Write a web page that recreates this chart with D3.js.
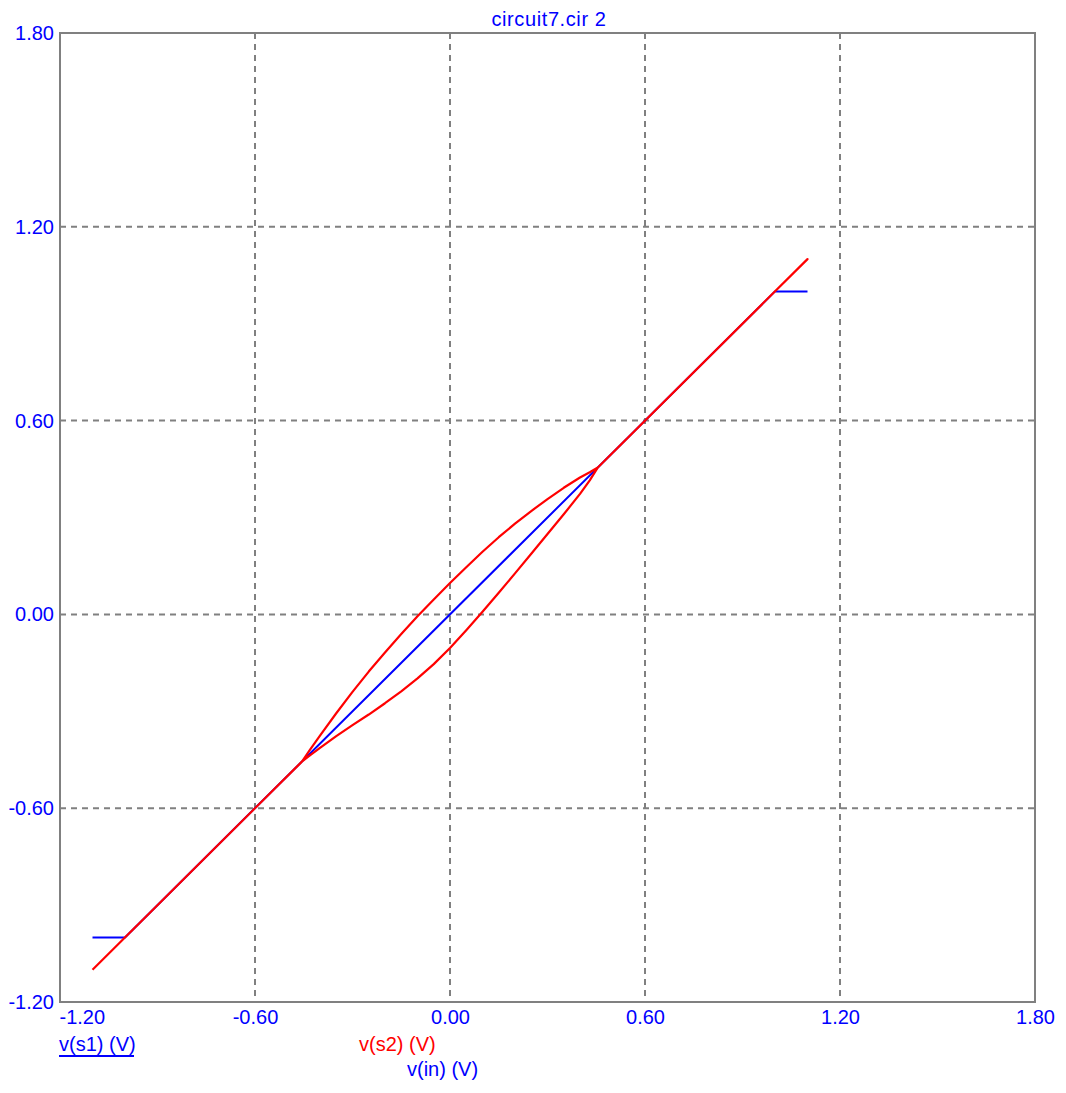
<!DOCTYPE html>
<html>
<head>
<meta charset="utf-8">
<script src="https://cdn.jsdelivr.net/npm/d3@7"></script>
<style>
  html, body { margin: 0; padding: 0; background: #ffffff; }
  svg { display: block; }
  text { font-family: "Liberation Sans", Arial, sans-serif; }
</style>
</head>
<body>
<svg id="chart" width="1066" height="1093"></svg>
<script>
// ---- data ----
const title = "circuit7.cir 2";
const xTicks = [-1.2, -0.6, 0, 0.6, 1.2, 1.8];
const xTickLabels = ["-1.20", "-0.60", "0.00", "0.60", "1.20", "1.80"];
const yTicks = [-1.2, -0.6, 0, 0.6, 1.2, 1.8];
const yTickLabels = ["-1.20", "-0.60", "0.00", "0.60", "1.20", "1.80"];
const seriesNames = ["v(s1) (V)", "v(s2) (V)", "v(in) (V)"];

// v(s1) versus v(in)
const s1In  = [-1.1, -1.0, 1.0, 1.1];
const s1Out = [-1.0, -1.0, 1.0, 1.0];

// v(s2) versus v(in): up the diagonal, lower branch of the loop, to the top, back down along the upper branch
const s2In = [-1.1, -0.455, -0.43, -0.40, -0.35, -0.30, -0.25, -0.20, -0.15, -0.10, -0.05, 0, 0.05, 0.10,
              0.15, 0.20, 0.25, 0.30, 0.35, 0.40, 0.43, 0.455, 1.1,
              0.455, 0.43, 0.40, 0.35, 0.30, 0.25, 0.20, 0.15, 0.10, 0.05, 0, -0.05, -0.10,
              -0.15, -0.20, -0.25, -0.30, -0.35, -0.40, -0.43, -0.455, -1.1];
const s2Out = [-1.1, -0.455, -0.436, -0.413, -0.377, -0.343, -0.310, -0.275, -0.238, -0.198, -0.154, -0.104, -0.049, 0.008,
               0.067, 0.127, 0.188, 0.249, 0.310, 0.373, 0.415, 0.455, 1.1,
               0.455, 0.440, 0.424, 0.392, 0.357, 0.320, 0.281, 0.239, 0.194, 0.146, 0.097, 0.046, -0.006,
               -0.061, -0.118, -0.177, -0.240, -0.306, -0.375, -0.418, -0.455, -1.1];

// ---- layout ----
(function () {
const svg = d3.select("#chart");
const pL = 60, pR = 1035, pT = 33, pB = 1002;
const x = d3.scaleLinear().domain([-1.2, 1.8]).range([pL, pR]);
const y = d3.scaleLinear().domain([-1.2, 1.8]).range([pB, pT]);
const blue = "#0000ff", red = "#ff0000", gray = "#808080";
const fs = "20px";

svg.append("rect").attr("width", 1066).attr("height", 1093).attr("fill", "#fff");

// grid
const grid = svg.append("g");
grid.selectAll("line.v").data(xTicks.slice(1, -1)).join("line")
  .attr("x1", d => x(d)).attr("x2", d => x(d))
  .attr("y1", pT).attr("y2", pB)
  .attr("stroke", gray).attr("stroke-width", 2).attr("stroke-dasharray", "6,5");
grid.selectAll("line.h").data(yTicks.slice(1, -1)).join("line")
  .attr("y1", d => y(d)).attr("y2", d => y(d))
  .attr("x1", pL).attr("x2", pR)
  .attr("stroke", gray).attr("stroke-width", 2).attr("stroke-dasharray", "6,5");

// frame
svg.append("rect").attr("x", pL).attr("y", pT)
  .attr("width", pR - pL).attr("height", pB - pT)
  .attr("fill", "none").attr("stroke", gray).attr("stroke-width", 2);

// axes (labels only)
const xAxis = d3.axisBottom(x).tickValues(xTicks)
  .tickFormat((d, i) => xTickLabels[i]).tickSize(0).tickPadding(8);
const gx = svg.append("g").attr("transform", `translate(0,${pB})`).call(xAxis);
gx.select(".domain").remove();
gx.selectAll("text").attr("fill", blue).style("font-size", fs).style("font-family", "'Liberation Sans', Arial, sans-serif");
gx.selectAll("text").filter((d, i) => i === 0).attr("text-anchor", "start").attr("x", -1);

const yAxis = d3.axisLeft(y).tickValues(yTicks)
  .tickFormat((d, i) => yTickLabels[i]).tickSize(0).tickPadding(6);
const gy = svg.append("g").attr("transform", `translate(${pL},0)`).call(yAxis);
gy.select(".domain").remove();
gy.selectAll("text").attr("fill", blue).style("font-size", fs).style("font-family", "'Liberation Sans', Arial, sans-serif");

// series
const line = d3.line().x(d => x(d[0])).y(d => y(d[1]));
svg.append("path").datum(d3.zip(s1In, s1Out))
  .attr("d", line).attr("fill", "none").attr("stroke", blue).attr("stroke-width", 2);
svg.append("path").datum(d3.zip(s2In, s2Out))
  .attr("d", line).attr("fill", "none").attr("stroke", red).attr("stroke-width", 2.2)
  .attr("stroke-linejoin", "round");

// title
svg.append("text").attr("x", 549).attr("y", 25.5).attr("text-anchor", "middle")
  .attr("fill", blue).style("font-size", fs).style("letter-spacing", "0.6px").text(title);

// legend labels
svg.append("text").attr("x", 59).attr("y", 1050.5).attr("fill", blue)
  .style("font-size", fs).text(seriesNames[0]);
svg.append("rect").attr("x", 59).attr("y", 1055).attr("width", 75).attr("height", 2).attr("fill", blue);
svg.append("text").attr("x", 359).attr("y", 1050.5).attr("fill", red)
  .style("font-size", fs).text(seriesNames[1]);
svg.append("text").attr("x", 407).attr("y", 1076).attr("fill", blue)
  .style("font-size", fs).text(seriesNames[2]);
})();
</script>
</body>
</html>
